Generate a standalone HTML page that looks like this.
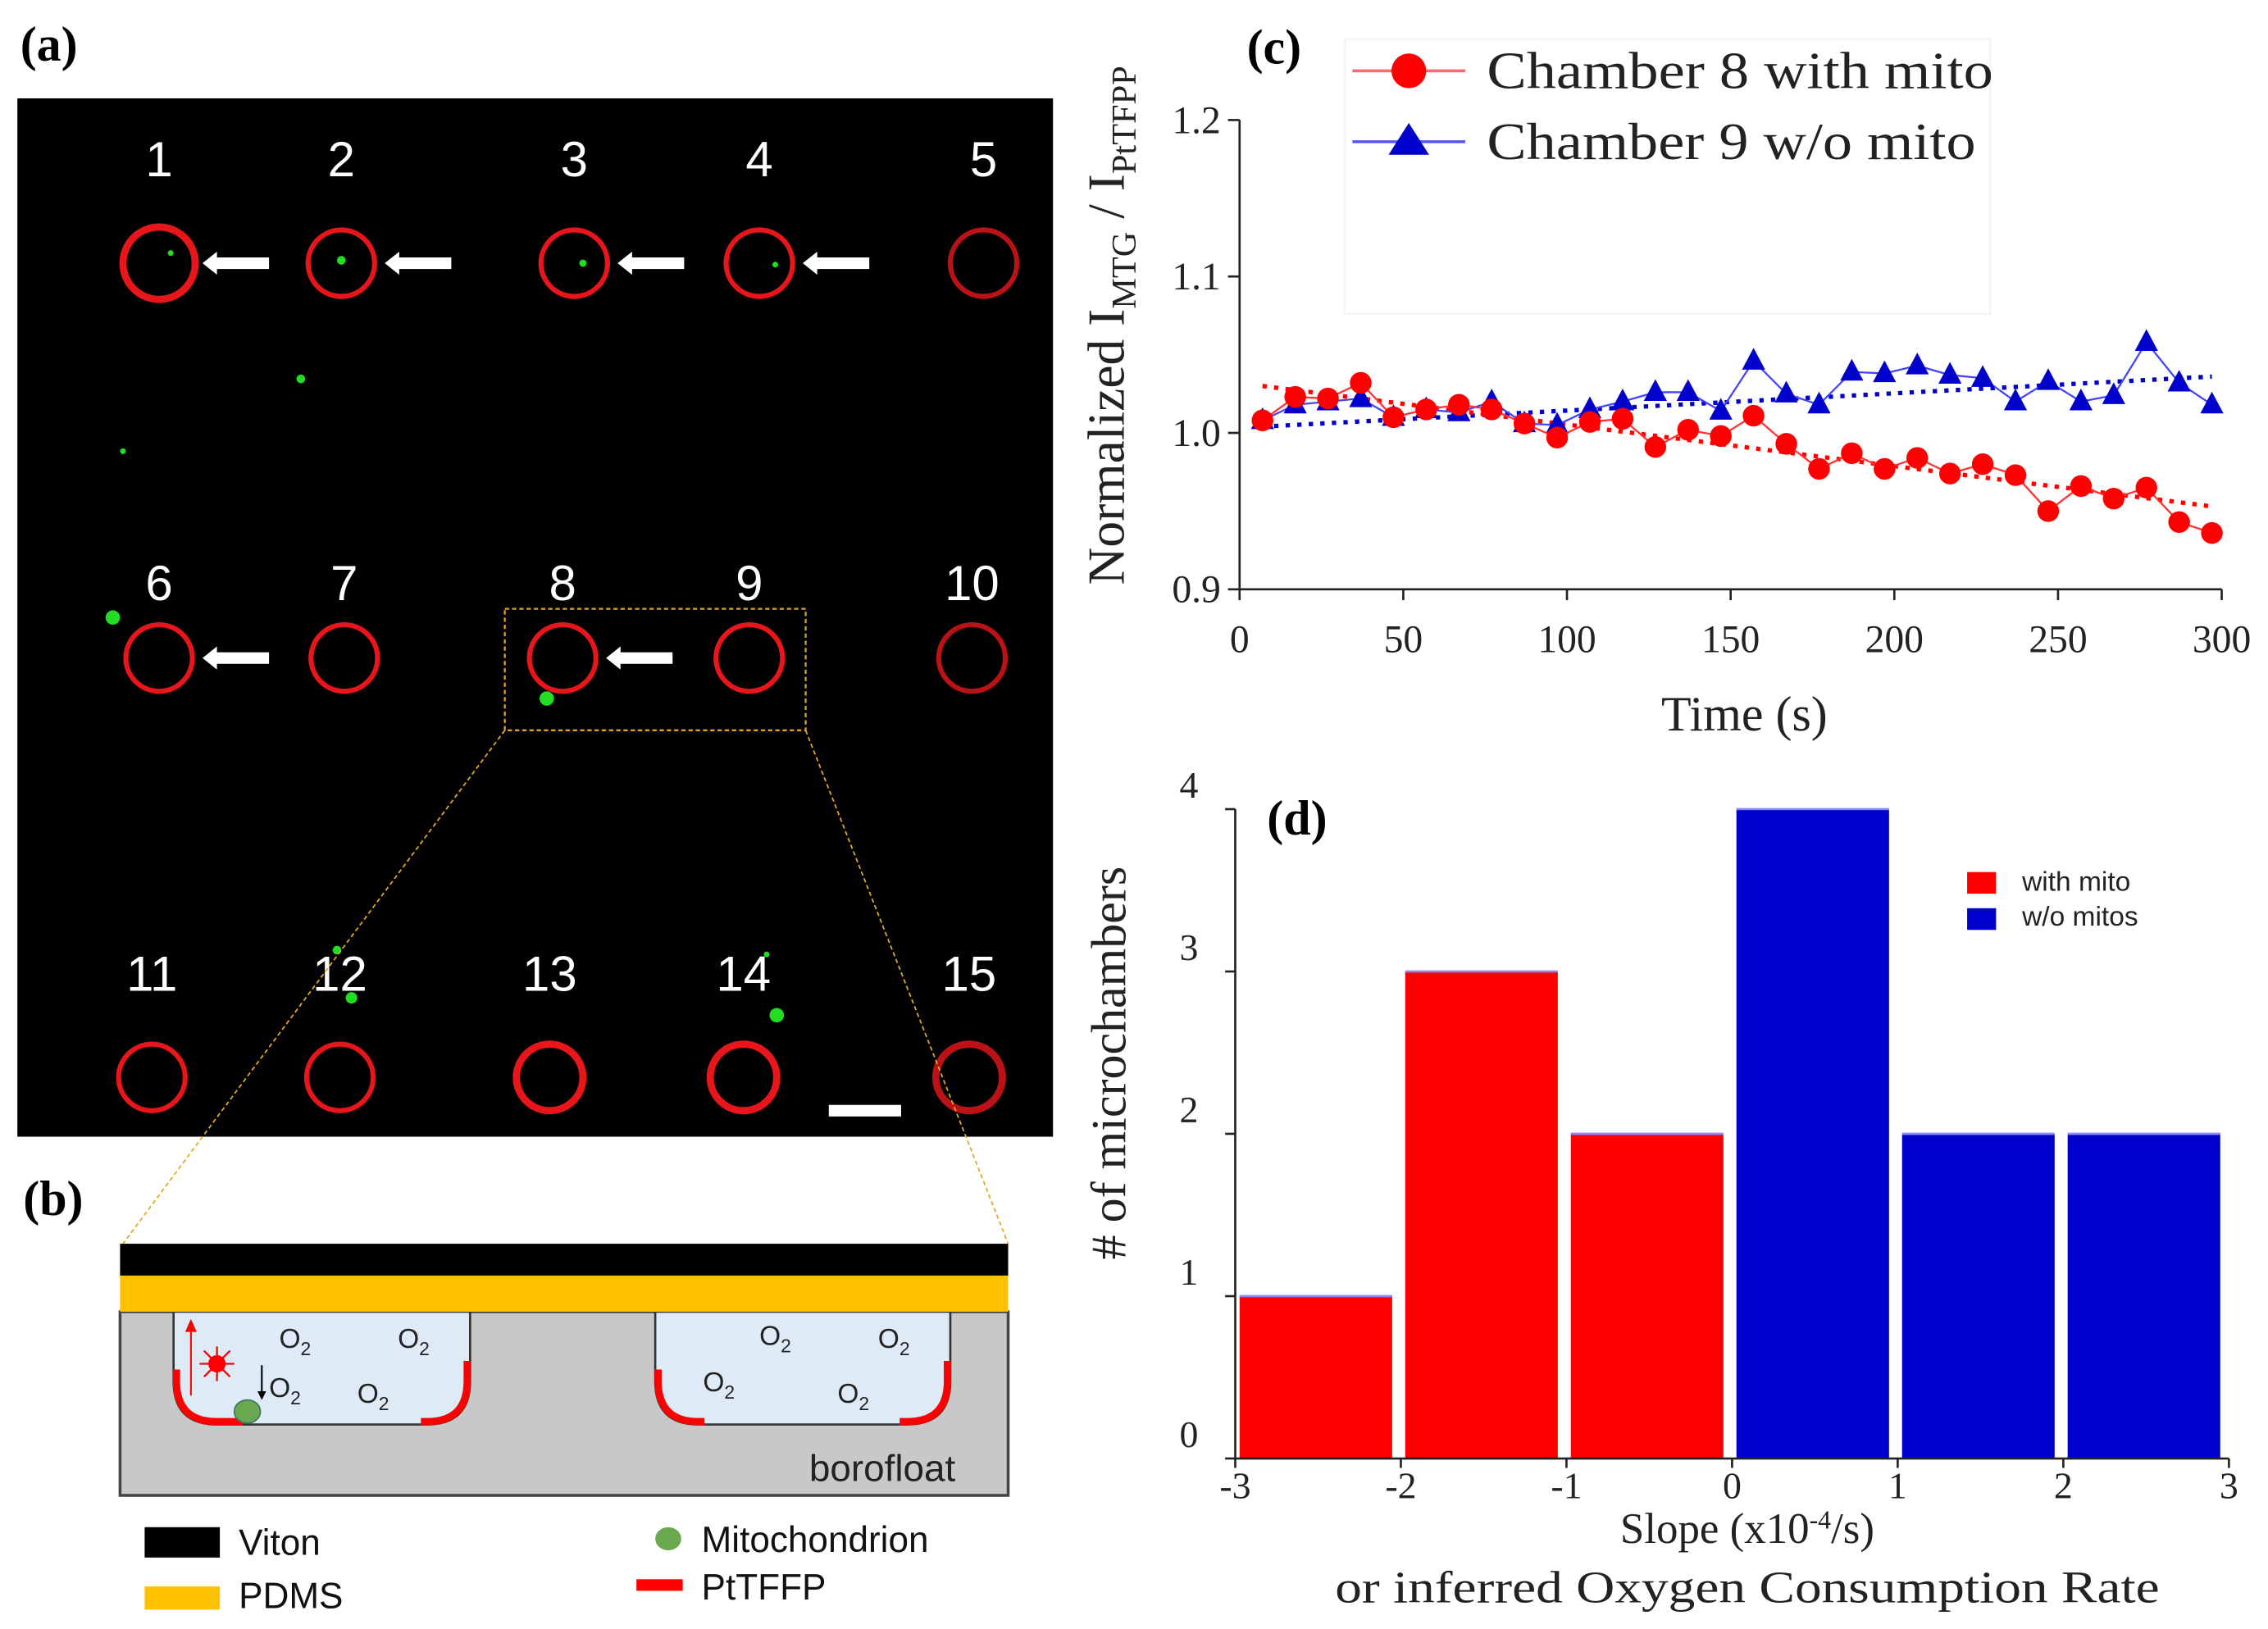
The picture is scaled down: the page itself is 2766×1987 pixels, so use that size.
<!DOCTYPE html>
<html><head><meta charset="utf-8"><style>
html,body{margin:0;padding:0;background:#fff}
svg{display:block}
.serif{font-family:"Liberation Serif",serif}
.sans{font-family:"Liberation Sans",sans-serif}
</style></head><body>
<svg id="fig" width="2766" height="1987" viewBox="0 0 1568 1126.4" xmlns="http://www.w3.org/2000/svg">
<rect width="1568" height="1126.4" fill="#fff"/>

<!-- Panel a -->
<g>
<text class="serif" x="14" y="42" font-size="34" font-weight="bold">(a)</text>
<rect x="12" y="68" width="716" height="718" fill="#000"/>
<g id="cells"></g>
<rect x="573" y="764" width="50" height="8" fill="#fff"/>
<rect x="349" y="421" width="208" height="84" fill="none" stroke="#e0a020" stroke-width="1.3" stroke-dasharray="3,2"/>
<line x1="349" y1="505" x2="85" y2="860" stroke="#e8a820" stroke-width="1" stroke-dasharray="3,2"/>
<line x1="557" y1="505" x2="697" y2="860" stroke="#e8a820" stroke-width="1" stroke-dasharray="3,2"/>
</g>

<!-- Panel b -->
<g>
<text class="serif" x="16" y="840" font-size="34" font-weight="bold">(b)</text>
<rect x="83" y="907" width="614" height="127" fill="#c8c8c8" stroke="#444" stroke-width="2"/>
<path d="M120,907 V955 Q120,985 150,985 H295 Q325,985 325,955 V907 Z" fill="#deeaf6" stroke="#333" stroke-width="1.5"/>
<path d="M453,907 V955 Q453,985 483,985 H627 Q657,985 657,955 V907 Z" fill="#deeaf6" stroke="#333" stroke-width="1.5"/>
<g fill="none" stroke="#f00" stroke-width="5">
<path d="M122,947 V955 Q122,983 150,983 H168"/>
<path d="M323,941 V955 Q323,983 295,983 H291"/>
<path d="M455,947 V955 Q455,983 483,983 H487"/>
<path d="M655,941 V955 Q655,983 627,983 H622"/>
</g>
<ellipse cx="171" cy="976" rx="9" ry="8" fill="#6aa84f" stroke="#476" stroke-width="1"/>
<line x1="132" y1="965" x2="132" y2="918" stroke="#f00" stroke-width="1.2"/>
<polygon points="128,921 132,912 136,921" fill="#f00"/>
<circle cx="150" cy="943" r="6" fill="#f00"/>
<g stroke="#f00" stroke-width="1.3"><line x1="150" y1="931" x2="150" y2="955"/><line x1="138" y1="943" x2="162" y2="943"/><line x1="141" y1="934" x2="159" y2="952"/><line x1="159" y1="934" x2="141" y2="952"/></g>
<line x1="181" y1="944" x2="181" y2="965" stroke="#000" stroke-width="1.2"/><polygon points="178,962 181,968 184,962" fill="#000"/>
<g class="sans" font-size="19" fill="#222">
<text x="193" y="932">O<tspan font-size="13" dy="5">2</tspan></text>
<text x="275" y="932">O<tspan font-size="13" dy="5">2</tspan></text>
<text x="186" y="966">O<tspan font-size="13" dy="5">2</tspan></text>
<text x="247" y="970">O<tspan font-size="13" dy="5">2</tspan></text>
<text x="525" y="930">O<tspan font-size="13" dy="5">2</tspan></text>
<text x="607" y="932">O<tspan font-size="13" dy="5">2</tspan></text>
<text x="486" y="962">O<tspan font-size="13" dy="5">2</tspan></text>
<text x="579" y="970">O<tspan font-size="13" dy="5">2</tspan></text>
</g>
<rect x="83" y="882" width="614" height="25" fill="#ffc000"/>
<rect x="83" y="860" width="614" height="22" fill="#000"/>
<text class="sans" x="610" y="1024" font-size="26" text-anchor="middle" fill="#222">borofloat</text>
<g class="sans" font-size="25" fill="#111">
<rect x="100" y="1056" width="52" height="21" fill="#000"/><text x="165" y="1075">Viton</text>
<rect x="100" y="1097" width="52" height="16" fill="#ffc000"/><text x="165" y="1112">PDMS</text>
<ellipse cx="462" cy="1064" rx="9" ry="8" fill="#6aa84f"/><text x="485" y="1073">Mitochondrion</text>
<rect x="440" y="1092" width="32" height="8" fill="#f00"/><text x="485" y="1106">PtTFFP</text>
</g>
</g>

<!-- Panel c -->
<g id="chartC">
<text class="serif" x="862" y="44" font-size="34" font-weight="bold">(c)</text>
<rect x="930" y="27" width="446" height="190" fill="none" stroke="#f2f2f2" stroke-width="1"/>
<text class="serif" transform="translate(777,225) rotate(-90)" text-anchor="middle" font-size="36" fill="#222">Normalized I<tspan font-size="24" dy="8">MTG</tspan><tspan dy="-8"> / I</tspan><tspan font-size="24" dy="8">PtTFPP</tspan></text>
<text class="serif" x="1206" y="505" text-anchor="middle" font-size="34" fill="#222">Time (s)</text>
<g id="cAxes"></g>
<g id="cMarks"></g>
<g>
<line x1="935" y1="49" x2="1013" y2="49" stroke="#f66" stroke-width="2"/>
<circle cx="974" cy="49" r="12" fill="#f00"/>
<text class="serif" x="1028" y="61" font-size="36" fill="#222" textLength="350" lengthAdjust="spacingAndGlyphs">Chamber 8 with mito</text>
<line x1="935" y1="98" x2="1013" y2="98" stroke="#55f" stroke-width="2"/>
<polygon points="974,85 988,107 960,107" fill="#00c"/>
<text class="serif" x="1028" y="110" font-size="36" fill="#222" textLength="338" lengthAdjust="spacingAndGlyphs">Chamber 9 w/o mito</text>
</g>
</g>

<!-- Panel d -->
<g id="chartD">
<text class="serif" x="876" y="577" font-size="34" font-weight="bold">(d)</text>
<text class="serif" transform="translate(778,735) rotate(-90)" text-anchor="middle" font-size="34" fill="#222"># of microchambers</text>
<text class="serif" x="1208" y="1067" text-anchor="middle" font-size="30" fill="#222">Slope (x10<tspan font-size="18" dy="-10">-4</tspan><tspan dy="10">/s)</tspan></text>
<text class="serif" x="923" y="1108" font-size="31" fill="#222" textLength="570" lengthAdjust="spacingAndGlyphs">or inferred Oxygen Consumption Rate</text>
<g id="dBars"></g>
<g id="dAxes"></g>
<g class="sans" font-size="19" fill="#222">
<rect x="1360" y="603" width="20" height="15" fill="#f00"/>
<text x="1398" y="616">with mito</text>
<rect x="1360" y="628" width="20" height="15" fill="#00c"/>
<text x="1398" y="640">w/o mitos</text>
</g>
</g>
</svg>
<script>
// ---- Chart C data ----
const cTimes = [7,17,27,37,47,57,67,77,87,97,107,117,127,137,147,157,167,177,187,197,207,217,227,237,247,257,267,277,287,297];
const cRed = [1.008,1.023,1.022,1.032,1.010,1.015,1.018,1.015,1.006,0.997,1.007,1.009,0.991,1.002,0.998,1.011,0.993,0.977,0.987,0.977,0.984,0.974,0.980,0.973,0.950,0.966,0.958,0.965,0.943,0.936];
const cBlue = [1.008,1.018,1.020,1.022,1.010,1.015,1.013,1.020,1.006,1.005,1.015,1.020,1.026,1.026,1.014,1.046,1.025,1.018,1.039,1.038,1.043,1.037,1.035,1.020,1.033,1.020,1.024,1.058,1.032,1.018];
const cRedFit = [1.030,0.953];
const cBlueFit = [1.004,1.036];
const cFitT = [7,297];
const cXTicks = [0,50,100,150,200,250,300];
const cYTicks = [0.9,1.0,1.1,1.2];
const cYLabels = ["0.9","1.0","1.1","1.2"];
// ---- Chart D data ----
const dBinStart = [-3,-2,-1,0,1,2];
const dCounts = [1,3,2,4,2,2];
const dGroup = ["with","with","with","without","without","without"];
const dXTicks = [-3,-2,-1,0,1,2,3];
const dYTicks = [0,1,2,3,4];

const NS="http://www.w3.org/2000/svg";
function mk(tag,attrs,parent){const e=document.createElementNS(NS,tag);for(const k in attrs)e.setAttribute(k,attrs[k]);parent.appendChild(e);return e;}

// Chart C
const cx=t=>857+(t-0)/300*(1536-857);
const cy=v=>407.5-(v-0.9)/0.3*(407.5-83);
const cA=document.getElementById('cAxes');
let l=mk('line',{x1:857,y1:83,x2:857,y2:407.5,stroke:'#222','stroke-width':1.5},cA);


l=mk('line',{x1:857,y1:407.5,x2:1536,y2:407.5,stroke:'#222','stroke-width':1.5},cA);


cXTicks.forEach(t=>{mk('line',{x1:cx(t),y1:407.5,x2:cx(t),y2:415,stroke:'#222','stroke-width':1.5},cA);
 const tx=mk('text',{x:cx(t),y:451,'text-anchor':'middle','font-size':27,class:'serif',fill:'#222'},cA);tx.textContent=t;
 
 });
cYTicks.forEach((v,i)=>{mk('line',{x1:849,y1:cy(v),x2:857,y2:cy(v),stroke:'#222','stroke-width':1.5},cA);
 const tx=mk('text',{x:844,y:cy(v)+9,'text-anchor':'end','font-size':27,class:'serif',fill:'#222'},cA);tx.textContent=cYLabels[i];
 
 });
const cM=document.getElementById('cMarks');
let f=mk('line',{x1:cx(cFitT[0]),y1:cy(cBlueFit[0]),x2:cx(cFitT[1]),y2:cy(cBlueFit[1]),stroke:'#00c','stroke-width':3,'stroke-dasharray':'3,5'},cM);


f=mk('line',{x1:cx(cFitT[0]),y1:cy(cRedFit[0]),x2:cx(cFitT[1]),y2:cy(cRedFit[1]),stroke:'#f00','stroke-width':3,'stroke-dasharray':'3,5'},cM);


let p=mk('polyline',{points:cTimes.map((t,i)=>cx(t)+','+cy(cBlue[i])).join(' '),fill:'none',stroke:'#44f','stroke-width':1.3},cM);


cTimes.forEach((t,i)=>{const x=cx(t),y=cy(cBlue[i]);const tr=mk('polygon',{points:`${x},${y-9} ${x+8},${y+6} ${x-8},${y+6}`,fill:'#00c'},cM);
 
 });
p=mk('polyline',{points:cTimes.map((t,i)=>cx(t)+','+cy(cRed[i])).join(' '),fill:'none',stroke:'#f33','stroke-width':1.3},cM);


cTimes.forEach((t,i)=>{const c=mk('circle',{cx:cx(t),cy:cy(cRed[i]),r:7.5,fill:'#f00'},cM);
 
 });

// Chart D
const dx=v=>854+(v+3)/6*(1541-854);
const dy=v=>1008.5-v/4*(1008.5-559.5);
const dB=document.getElementById('dBars');
dBinStart.forEach((s,i)=>{const x0=dx(s)+3,x1=dx(s+1)-6;
 const r=mk('rect',{x:x0,y:dy(dCounts[i]),width:x1-x0,height:dy(0)-dy(dCounts[i]),fill:dGroup[i]==='with'?'#f00':'#0000cc'},dB);
 
 
 mk('line',{x1:x0,y1:dy(dCounts[i]),x2:x1,y2:dy(dCounts[i]),stroke:'#88f','stroke-width':1.5},dB);});
const dA=document.getElementById('dAxes');
l=mk('line',{x1:854,y1:559.5,x2:854,y2:1008.5,stroke:'#222','stroke-width':1.5},dA);


l=mk('line',{x1:854,y1:1008.5,x2:1541,y2:1008.5,stroke:'#222','stroke-width':1.5},dA);


dXTicks.forEach(t=>{mk('line',{x1:dx(t),y1:1008.5,x2:dx(t),y2:1015,stroke:'#222','stroke-width':1.5},dA);
 const tx=mk('text',{x:dx(t),y:1036,'text-anchor':'middle','font-size':26,class:'serif',fill:'#222'},dA);tx.textContent=t;
 
 });
dYTicks.forEach(v=>{mk('line',{x1:847,y1:dy(v),x2:854,y2:dy(v),stroke:'#222','stroke-width':1.5},dA);
 const tx=mk('text',{x:822,y:dy(v)-8,'text-anchor':'middle','font-size':26,class:'serif',fill:'#222'},dA);tx.textContent=v;
 
 });

// Panel a cells
const cellX=[110,236,397,525,680,110,238,389,518,672,105,235,380,514,670];
const cellY=[182,182,182,182,182,455,455,455,455,455,745,745,745,745,745];
const labY=[110,110,110,110,110,403,403,403,403,403,673,673,673,673,673];
const arrowCells=[1,2,3,4,6,8];
const g=document.getElementById('cells');
cellX.forEach((x,i)=>{
 const c=mk('circle',{cx:x,cy:cellY[i],r:i===0?25:23,fill:'none',stroke:'#e8161b','stroke-width':i===0||i>=12?5:3.5,opacity:i===4||i===9||i===14?0.8:1},g);
 
 
 const t=mk('text',{x:x,y:labY[i]+12,'text-anchor':'middle','font-size':34,fill:'#fff',class:'sans'},g);t.textContent=i+1;
 
 
 if(arrowCells.includes(i+1)){const ax=x+30;
  const a=mk('polygon',{points:`${ax},${cellY[i]} ${ax+10},${cellY[i]-8} ${ax+10},${cellY[i]-4} ${ax+46},${cellY[i]-4} ${ax+46},${cellY[i]+4} ${ax+10},${cellY[i]+4} ${ax+10},${cellY[i]+8}`,fill:'#fff'},g);
  
  }
});
[[118,175,2],[236,180,3],[403,182,2.5],[536,183,2],[78,427,5],[378,483,5],[537,702,5],[243,690,4],[208,262,3],[85,312,2],[530,660,2],[233,657,3]].forEach(d=>mk('circle',{cx:d[0],cy:d[1],r:d[2],fill:'#22dd22'},g));
</script>
</body></html>
